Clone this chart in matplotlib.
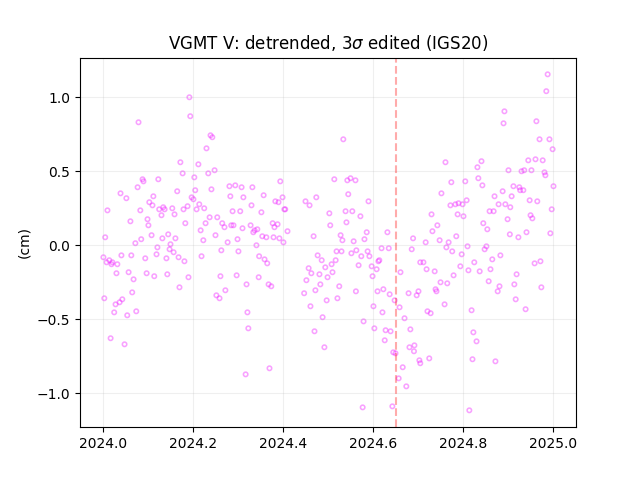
import numpy as np
import matplotlib
matplotlib.use('Agg')
import matplotlib.pyplot as plt

base_year = 2024
change_epoch = 2024.65

# Fraction of the year for each epoch
t_frac = [
    .191, .193, .078, .238, .242, .229, .171, .211, .176, .247, .233, .202, .087, .089, .122, .076,
    .164, .204, .240, .280, .293, .307, .038, .051, .111, .196, .200, .282, .311, .102, .109, .213,
    .187, .009, .082, .124, .133, .136, .153, .178, .207, .224, .287, .304, .129, .158, .236, .253,
    .098, .060, .100, .182, .227, .264, .269, .284, .289, .309, .216, .004, .107, .144, .249, .084,
    .131, .160, .222, .276, .298, .071, .149,
    .120, .147, .156, .262, .300, .118, .218, .000, .040, .062, .093, .140, .167, .180, .007, .013,
    .020, .018, .031, .029, .056, .096, .113, .142, .067, .189, .260, .296, .318, .169, .271, .064,
    .251, .258, .002, .042, .036, .027, .024, .073, .053, .320, .322, .016, .047, .316,
    .533, .393, .513, .542, .549, .560, .331, .356, .544, .398, .473, .382, .389, .449, .458, .589,
    .329, .402, .404, .351, .538, .553, .502, .571, .540, .376, .387, .327, .504, .380, .342, .336,
    .333, .409, .585, .631, .353, .362, .378, .467, .527, .391, .531, .580, .556, .400, .688, .340,
    .618, .634, .685, .476, .518, .529, .551, .562, .587, .573, .591, .346, .358, .364, .485, .516,
    .507, .493, .456, .462, .480, .509, .567, .596, .607, .611, .613, .598, .660, .498, .345, .451,
    .482, .367, .373, .524, .471, .446, .561, .609, .622, .636, .678, .520, .496, .647, .460, .600,
    .658, .620, .487, .669, .578, .469, .602, .627, .638, .682, .625, .491, .680, .691, .690, .644,
    .649, .665, .369, .656, .673, .576, .642,
    .987, .984, .891, .889, .962, .969, .991, .998, .760, .840, .831, .944, .960, .976, .900, .929,
    .935, .951, .980, .982, .833, .773, .804, .842, .911, .924, 1.000, .887, .926, .933, .751, .869,
    .907, .807, .947, .964, .771, .782, .789, .798, .878, .893, .904, .996, .858, .867, .729, .787,
    .800, .949, .953, .898, .742, .844, .853, .731, .903, .940, .993, .784, .922, .716, .747, .767,
    .809, .851, .847, .762, .775, .796, .882, .864, .824, .704, .711, .958, .971, .793, .718, .736,
    .811, .836, .860, .918, .778, .856, .749, .764, .880, .913, .973, .738, .740, .876, .700, .696,
    .916, .758, .938, .818, .720, .727, .822, .829, .820, .871, .702, .704, .724, .813,
]

# Detrended vertical residual, cm
resid = [
    1.000, .872, .831, .743, .730, .655, .561, .547, .486, .507, .486, .459, .446, .432, .446, .392,
    .365, .372, .378, .399, .405, .392, .351, .318, .331, .324, .311, .331, .324, .291, .270, .277,
    .264, .236, .236, .243, .257, .243, .250, .243, .243, .250, .230, .230, .203, .209, .189, .189,
    .176, .162, .135, .149, .149, .149, .122, .135, .135, .115, .101, .054, .068, .074, .068, .041,
    .047, .047, .034, .020, .041, .014, .007,
    -.014, -.027, -.047, -.034, -.041, -.061, -.074, -.081, -.068, -.068, -.088, -.088, -.081, -.108, -.115, -.101,
    -.115, -.128, -.128, -.189, -.182, -.189, -.209, -.196, -.230, -.216, -.209, -.203, -.264, -.284, -.304, -.318,
    -.338, -.358, -.358, -.365, -.385, -.399, -.453, -.446, -.473, -.453, -.561, -.628, -.669, -.872,
    .716, .432, .446, .439, .453, .439, .392, .338, .345, .324, .324, .297, .291, .297, .270, .297,
    .270, .243, .243, .223, .230, .230, .216, .196, .155, .149, .142, .135, .135, .122, .108, .101,
    .088, .095, .088, .088, .061, .054, .054, .061, .068, .047, .034, .041, .027, .020, .047, .000,
    -.020, -.020, -.027, -.068, -.041, -.041, -.054, -.034, -.041, -.074, -.074, -.074, -.095, -.122, -.101, -.101,
    -.128, -.149, -.155, -.189, -.196, -.182, -.135, -.142, -.162, -.108, -.101, -.209, -.182, -.216, -.216, -.236,
    -.264, -.264, -.277, -.277, -.304, -.324, -.311, -.311, -.297, -.331, -.324, -.358, -.372, -.372, -.412, -.412,
    -.419, -.453, -.486, -.493, -.514, -.581, -.561, -.574, -.581, -.568, -.642, -.689, -.689, -.676, -.716, -.723,
    -.730, -.824, -.831, -.899, -.953, -1.095, -1.088,
    1.155, 1.041, .905, .824, .838, .716, .716, .649, .561, .568, .527, .574, .581, .574, .507, .500,
    .507, .507, .493, .473, .453, .426, .432, .405, .399, .392, .399, .365, .372, .372, .351, .331,
    .331, .304, .304, .297, .270, .277, .284, .277, .277, .277, .257, .243, .230, .230, .209, .209,
    .196, .203, .182, .176, .135, .149, .108, .095, .074, .088, .081, .061, .054, .020, .034, .020,
    -.007, -.007, -.027, -.014, -.041, -.061, -.068, -.095, -.115, -.115, -.115, -.122, -.108, -.142, -.162, -.176,
    -.169, -.176, -.162, -.196, -.203, -.243, -.250, -.257, -.277, -.264, -.284, -.297, -.311, -.311, -.311, -.338,
    -.365, -.399, -.432, -.439, -.446, -.459, -.588, -.649, -.770, -.784, -.777, -.797, -.764, -1.115,
]

x_ticks = [2024.0, 2024.2, 2024.4, 2024.6, 2024.8, 2025.0]
y_ticks = [-1.0, -0.5, 0.0, 0.5, 1.0]

t = base_year + np.array(t_frac)
resid = np.array(resid)

fig, ax = plt.subplots(figsize=(6.4, 4.8), dpi=100)
ax.scatter(t, resid, s=10, facecolors='none', edgecolors='#f020ff', alpha=0.42, linewidths=1.15)
ax.axvline(change_epoch, color='red', alpha=0.33, linestyle='--', linewidth=1.5)

ax.set_title(r'VGMT V: detrended, 3$\sigma$ edited (IGS20)')
ax.set_ylabel('(cm)')
ax.set_xticks(x_ticks)
ax.set_yticks(y_ticks)
ax.set_xlim(2023.948, 2025.05)
ax.set_ylim(-1.229, 1.268)
ax.grid(alpha=0.2)

fig.savefig('out.png')
